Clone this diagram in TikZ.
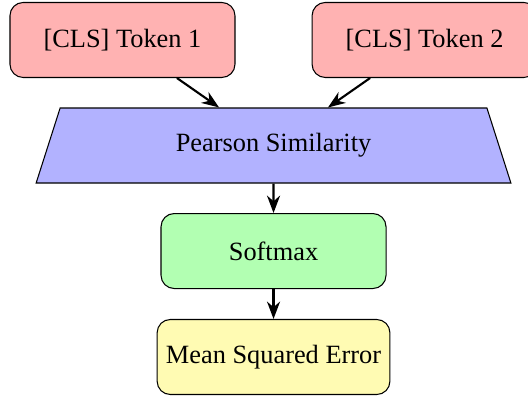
\documentclass[tikz,border=0pt]{standalone}
\usepackage{fontspec}
\setmainfont{Liberation Serif}
\usetikzlibrary{arrows.meta,shapes.geometric}
\tikzset {>=Stealth}
\tikzset{
  tokenbox/.style={draw, rounded corners=5pt, fill=red!30, minimum width=3cm, minimum height=1cm},
  stagebox/.style={draw, rounded corners=5pt, minimum width=3cm, minimum height=1cm},
  simbox/.style={draw, trapezium, trapezium left angle=60, trapezium right angle=60,
    trapezium stretches body, fill=blue!30, minimum width=6.33cm, minimum height=1cm},
  flow/.style={->, thick}
}

\begin{document}
\begin{tikzpicture}
\useasboundingbox (0,0) rectangle (7.04,-5.28);
\node[tokenbox] (tok1) at (1.633,-0.533) {[CLS] Token 1};
\node[tokenbox] (tok2) at (5.661,-0.533) {[CLS] Token 2};
\node[simbox] (sim) at (3.647,-1.94) {Pearson Similarity};
\node[stagebox, fill=green!30] (soft) at (3.647,-3.347) {Softmax};
\node[stagebox, fill=yellow!30] (mse) at (3.647,-4.76) {Mean Squared Error};
\draw[flow] (tok1) -- (sim);
\draw[flow] (tok2) -- (sim);
\draw[flow] (sim) -- (soft);
\draw[flow] (soft) -- (mse);
\end{tikzpicture}
\end{document}
